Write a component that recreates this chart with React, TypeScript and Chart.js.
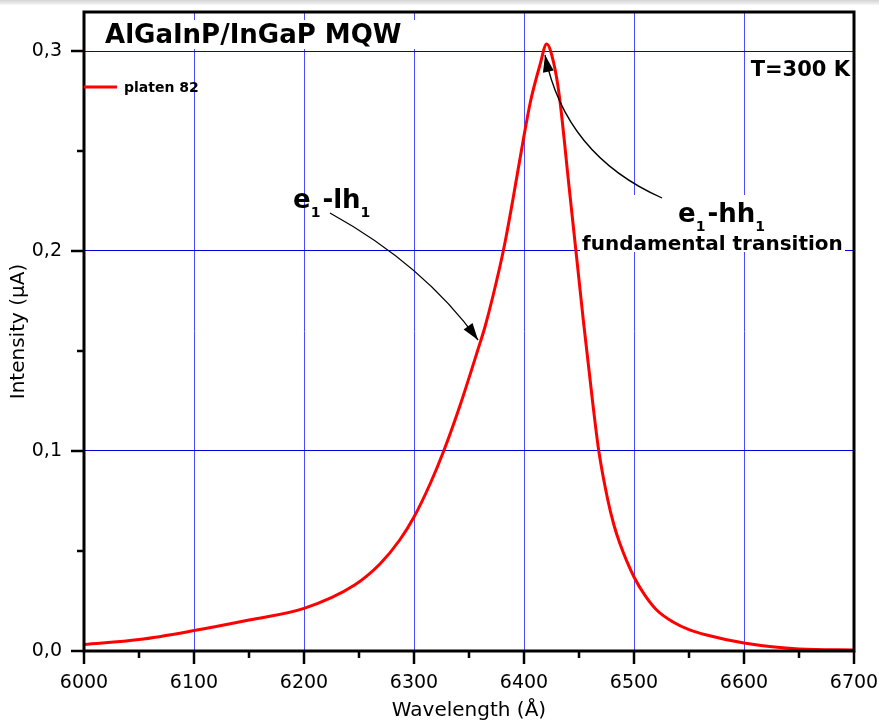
import React, { useEffect, useRef } from 'react';
import { Chart, registerables } from 'chart.js';

Chart.register(...registerables);

// ---- data ----
const wavelengths = [
  6000, 6050, 6100, 6150, 6200, 6246, 6269, 6287, 6300, 6315,
  6327, 6342, 6358, 6365, 6378, 6383, 6390, 6399, 6406, 6414.5,
  6420.6, 6427, 6432, 6441, 6448, 6454, 6462.5, 6468, 6476, 6481.5,
  6487, 6500, 6510, 6520.6, 6535.5, 6550, 6566, 6600, 6650, 6700,
];
const intensities = [
  0.0032, 0.0057, 0.0102, 0.0155, 0.0213, 0.033, 0.0435, 0.0555, 0.067, 0.084,
  0.1, 0.123, 0.1505, 0.163, 0.192, 0.205, 0.226, 0.2545, 0.275, 0.293,
  0.3035, 0.294, 0.278, 0.232, 0.196, 0.165, 0.124, 0.1, 0.076, 0.0635,
  0.054, 0.037, 0.0278, 0.0205, 0.0145, 0.0107, 0.008, 0.004, 0.001, 0.0005,
];
const xTicks = [6000, 6100, 6200, 6300, 6400, 6500, 6600, 6700];
const xMinorTicks = [6050, 6150, 6250, 6350, 6450, 6550, 6650];
const yTicks = [0, 0.1, 0.2, 0.3];
const yMinorTicks = [0.05, 0.15, 0.25];
const xRange = [6000, 6700];
const yRange = [0, 0.3195];

const seriesName = 'platen 82';
const chartTitle = 'AlGaInP/InGaP MQW';
const tempLabel = 'T=300 K';
const xTitle = 'Wavelength (Å)';
const yTitle = 'Intensity (µA)';
const lhLabel: [string, boolean][] = [['e', false], ['1', true], ['-lh', false], ['1', true]];
const hhLabel: [string, boolean][] = [['e', false], ['1', true], ['-hh', false], ['1', true]];
const hhSubLabel = 'fundamental transition';

// annotation anchors in data coordinates
const lhArrow = { start: [6223.6, 0.219], ctrl: [6309.1, 0.193], end: [6358.2, 0.1555] };
const hhArrow = { start: [6525.5, 0.2265], ctrl: [6437.3, 0.248], end: [6419.1, 0.298] };
const lhLabelPos = [6190, 0.2215];
const hhLabelPos = [6540, 0.2145];
const hhSubPos = [6452.7, 0.2005];
const hhBox = [6450.9, 0.228, 6691.8, 0.1995];
const titlePos = [6019.1, 0.3042];
const titleBox = [6014.5, 0.3155, 6301.8, 0.301];
const tempPos = [6696.4, 0.2875];
const legendPos = [6000, 0.282];

const FONT = '"DejaVu Sans", Verdana, sans-serif';

function drawSubText(ctx: CanvasRenderingContext2D, parts: [string, boolean][], x: number, y: number, size: number, subSize: number, subDrop: number) {
  let cx = x;
  for (const [t, sub] of parts) {
    ctx.font = `bold ${sub ? subSize : size}px ${FONT}`;
    ctx.fillText(t, cx, sub ? y + subDrop : y);
    cx += ctx.measureText(t).width + (sub ? 2 : 0);
  }
}

function drawArrow(ctx: CanvasRenderingContext2D, s: number[], c: number[], e: number[]) {
  ctx.beginPath();
  ctx.moveTo(s[0], s[1]);
  ctx.quadraticCurveTo(c[0], c[1], e[0], e[1]);
  ctx.lineWidth = 1.3;
  ctx.strokeStyle = '#000';
  ctx.stroke();
  const ang = Math.atan2(e[1] - c[1], e[0] - c[0]);
  const len = 17, half = 5.5;
  const bx = e[0] - len * Math.cos(ang), by = e[1] - len * Math.sin(ang);
  ctx.beginPath();
  ctx.moveTo(e[0], e[1]);
  ctx.lineTo(bx + half * Math.sin(ang), by - half * Math.cos(ang));
  ctx.lineTo(bx - half * Math.sin(ang), by + half * Math.cos(ang));
  ctx.closePath();
  ctx.fillStyle = '#000';
  ctx.fill();
}

const decorPlugin = {
  id: 'decor',
  beforeDatasetsDraw(chart: any) {
    const { ctx } = chart;
    const xs = chart.scales.x, ys = chart.scales.y;
    ctx.save();
    ctx.fillStyle = '#ffffff';
    for (const b of [hhBox, titleBox]) {
      const x1 = xs.getPixelForValue(b[0]), y1 = ys.getPixelForValue(b[1]);
      const x2 = xs.getPixelForValue(b[2]), y2 = ys.getPixelForValue(b[3]);
      ctx.fillRect(x1, y1, x2 - x1, y2 - y1);
    }
    ctx.restore();
  },
  afterDatasetsDraw(chart: any) {
    const { ctx, chartArea: a } = chart;
    const xs = chart.scales.x, ys = chart.scales.y;
    const px = (v: number) => xs.getPixelForValue(v);
    const py = (v: number) => ys.getPixelForValue(v);
    const P = (p: number[]) => [px(p[0]), py(p[1])];
    ctx.save();
    // frame
    ctx.strokeStyle = '#000';
    ctx.lineWidth = 3;
    ctx.strokeRect(a.left, a.top, a.right - a.left, a.bottom - a.top);
    // tick marks
    ctx.lineWidth = 2.5;
    ctx.beginPath();
    for (const v of xTicks) { ctx.moveTo(px(v), a.bottom); ctx.lineTo(px(v), a.bottom + 13); }
    for (const v of xMinorTicks) { ctx.moveTo(px(v), a.bottom); ctx.lineTo(px(v), a.bottom + 7); }
    for (const v of yTicks) { ctx.moveTo(a.left, py(v)); ctx.lineTo(a.left - 13, py(v)); }
    for (const v of yMinorTicks) { ctx.moveTo(a.left, py(v)); ctx.lineTo(a.left - 7, py(v)); }
    ctx.stroke();

    ctx.fillStyle = '#000';
    ctx.textBaseline = 'alphabetic';
    // title
    ctx.textAlign = 'left';
    ctx.font = `bold 26px ${FONT}`;
    const t = P(titlePos);
    ctx.fillText(chartTitle, t[0], t[1]);
    // temperature
    ctx.textAlign = 'right';
    ctx.font = `bold 21px ${FONT}`;
    const tp = P(tempPos);
    ctx.fillText(tempLabel, tp[0], tp[1]);
    // legend
    ctx.textAlign = 'left';
    const lp = P(legendPos);
    ctx.strokeStyle = '#ff0000';
    ctx.lineWidth = 3;
    ctx.beginPath();
    ctx.moveTo(lp[0], lp[1]);
    ctx.lineTo(lp[0] + 33, lp[1]);
    ctx.stroke();
    ctx.font = `bold 14px ${FONT}`;
    ctx.fillText(seriesName, lp[0] + 40, lp[1] + 5);
    // labels
    const l1 = P(lhLabelPos);
    drawSubText(ctx, lhLabel, l1[0], l1[1], 26, 14, 8.5);
    const l2 = P(hhLabelPos);
    drawSubText(ctx, hhLabel, l2[0], l2[1], 26, 14, 8.5);
    ctx.font = `bold 20px ${FONT}`;
    const l3 = P(hhSubPos);
    ctx.fillText(hhSubLabel, l3[0], l3[1]);
    // arrows
    drawArrow(ctx, P(lhArrow.start), P(lhArrow.ctrl), P(lhArrow.end));
    drawArrow(ctx, P(hhArrow.start), P(hhArrow.ctrl), P(hhArrow.end));
    ctx.restore();
  },
};

const zeroPad = (s: any) => {
  s.paddingTop = 0;
  s.paddingBottom = 0;
  s.paddingLeft = 0;
  s.paddingRight = 0;
};

export default function App() {
  const ref = useRef<HTMLCanvasElement | null>(null);
  useEffect(() => {
    if (!ref.current) return;
    const chart = new Chart(ref.current, {
      type: 'line',
      data: {
        datasets: [
          {
            label: seriesName,
            data: wavelengths.map((x, i) => ({ x, y: intensities[i] })),
            borderColor: '#ff0000',
            borderWidth: 3,
            pointRadius: 0,
            fill: false,
            cubicInterpolationMode: 'monotone',
          },
        ],
      },
      options: {
        animation: false,
        responsive: false,
        layout: { padding: { top: 12, right: 25, left: 0, bottom: 0 } },
        plugins: { legend: { display: false }, tooltip: { enabled: false }, title: { display: false } },
        scales: {
          x: {
            type: 'linear',
            min: xRange[0],
            max: xRange[1],
            afterBuildTicks: (s: any) => { s.ticks = xTicks.map((v) => ({ value: v })); },
            afterFit: (s: any) => { s.height = 73; zeroPad(s); },
            ticks: {
              autoSkip: false,
              maxRotation: 0,
              padding: 21,
              color: '#000',
              font: { family: FONT, size: 19 },
              callback: (v: any) => String(v),
            },
            grid: {
              drawTicks: false,
              lineWidth: 1,
              color: (c: any) => (c.tick && (c.tick.value === xRange[0] || c.tick.value === xRange[1]) ? 'rgba(0,0,0,0)' : '#4a4aff'),
            },
            border: { display: false },
            title: {
              display: true,
              text: xTitle,
              color: '#000',
              font: { family: FONT, size: 20 },
              padding: { top: 1, bottom: 1 },
            },
          },
          y: {
            type: 'linear',
            min: yRange[0],
            max: yRange[1],
            afterBuildTicks: (s: any) => { s.ticks = yTicks.map((v) => ({ value: v })); },
            afterFit: (s: any) => { s.width = 84; zeroPad(s); },
            ticks: {
              padding: 22,
              color: '#000',
              font: { family: FONT, size: 19 },
              callback: (v: any) => Number(v).toFixed(1).replace('.', ','),
            },
            grid: {
              drawTicks: false,
              lineWidth: 1,
              color: (c: any) => (c.tick && c.tick.value === 0 ? 'rgba(0,0,0,0)' : '#0000d8'),
            },
            border: { display: false },
            title: {
              display: true,
              text: yTitle,
              color: '#000',
              font: { family: FONT, size: 20 },
              padding: { top: 7, bottom: 7 },
            },
          },
        },
      },
      plugins: [decorPlugin],
    } as any);
    return () => chart.destroy();
  }, []);

  return (
    <div style={{ position: 'fixed', left: 0, top: 0, width: 879, height: 724, background: '#fff' }}>
      <div
        style={{
          position: 'absolute',
          left: 0,
          top: 0,
          width: 879,
          height: 5,
          background: 'linear-gradient(#d4d4d4, #f6f6f6)',
        }}
      />
      <canvas ref={ref} width={879} height={724} style={{ position: 'absolute', left: 0, top: 0 }} />
    </div>
  );
}
